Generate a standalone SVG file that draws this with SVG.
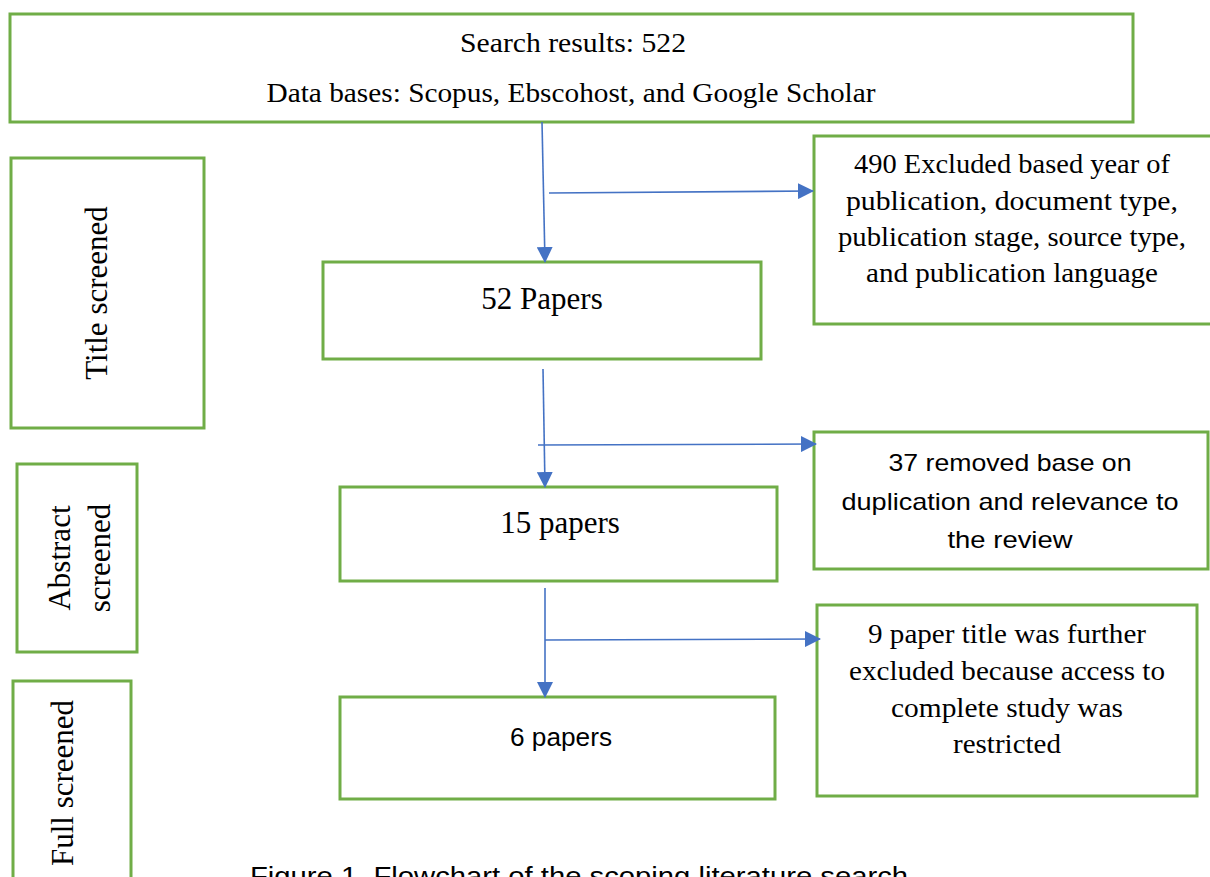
<svg xmlns="http://www.w3.org/2000/svg" width="1210" height="877" viewBox="0 0 1210 877">
<defs>
<style>
.box{fill:#fff;stroke:#70AD47;stroke-width:3}
.serif{font-family:"Liberation Serif","Times New Roman",serif;fill:#000}
.sans{font-family:"Liberation Sans",Arial,sans-serif;fill:#000}
.conn{stroke:#4472C4;stroke-width:1.6;fill:none}
</style>
<marker id="ah" markerUnits="userSpaceOnUse" markerWidth="16" markerHeight="16" viewBox="0 0 16 16" refX="15" refY="8" orient="auto">
<path d="M0,0 L16,8 L0,16 Z" fill="#4472C4"/>
</marker>
</defs>
<rect width="1210" height="877" fill="#fff"/>

<g id="search">
<rect class="box" x="10" y="14" width="1123" height="108"/>
<text class="serif" x="573" y="52" font-size="27" text-anchor="middle" textLength="226" lengthAdjust="spacingAndGlyphs">Search results: 522</text>
<text class="serif" x="571" y="102" font-size="27" text-anchor="middle" textLength="609" lengthAdjust="spacingAndGlyphs">Data bases: Scopus, Ebscohost, and Google Scholar</text>
</g>

<g id="excluded490">
<rect class="box" x="814" y="136" width="400" height="188"/>
<g class="serif" font-size="27" text-anchor="middle">
<text x="1012" y="173" textLength="316" lengthAdjust="spacingAndGlyphs">490 Excluded based year of</text>
<text x="1012" y="210" textLength="332" lengthAdjust="spacingAndGlyphs">publication, document type,</text>
<text x="1012" y="246" textLength="348" lengthAdjust="spacingAndGlyphs">publication stage, source type,</text>
<text x="1012" y="282" textLength="292" lengthAdjust="spacingAndGlyphs">and publication language</text>
</g>
</g>

<g id="papers52">
<rect class="box" x="323" y="262" width="438" height="97"/>
<text class="serif" x="542" y="309" font-size="31" text-anchor="middle">52 Papers</text>
</g>

<g id="removed37">
<rect class="box" x="814" y="432" width="394" height="137"/>
<g class="sans" font-size="24" text-anchor="middle">
<text x="1010" y="471" textLength="243" lengthAdjust="spacingAndGlyphs">37 removed base on</text>
<text x="1010" y="510" textLength="337" lengthAdjust="spacingAndGlyphs">duplication and relevance to</text>
<text x="1010" y="548" textLength="125" lengthAdjust="spacingAndGlyphs">the review</text>
</g>
</g>

<g id="papers15">
<rect class="box" x="340" y="487" width="437" height="94"/>
<text class="serif" x="560" y="533" font-size="31" text-anchor="middle">15 papers</text>
</g>

<g id="excluded9">
<rect class="box" x="817" y="605" width="380" height="191"/>
<g class="serif" font-size="27" text-anchor="middle">
<text x="1007" y="643" textLength="278" lengthAdjust="spacingAndGlyphs">9 paper title was further</text>
<text x="1007" y="680" textLength="316" lengthAdjust="spacingAndGlyphs">excluded because access to</text>
<text x="1007" y="717" textLength="232" lengthAdjust="spacingAndGlyphs">complete study was</text>
<text x="1007" y="753" textLength="108" lengthAdjust="spacingAndGlyphs">restricted</text>
</g>
</g>

<g id="papers6">
<rect class="box" x="340" y="697" width="435" height="102"/>
<text class="sans" x="561" y="746" font-size="26" text-anchor="middle" textLength="102" lengthAdjust="spacingAndGlyphs">6 papers</text>
</g>

<g id="titleScreened">
<rect class="box" x="11" y="158" width="193" height="270"/>
<text class="serif" font-size="31" text-anchor="middle" transform="translate(107,293) rotate(-90)">Title screened</text>
</g>

<g id="abstractScreened">
<rect class="box" x="17" y="464" width="120" height="188"/>
<text class="serif" font-size="31" text-anchor="middle" transform="translate(70,558) rotate(-90)">Abstract</text>
<text class="serif" font-size="31" text-anchor="middle" transform="translate(110,558) rotate(-90)">screened</text>
</g>

<g id="fullScreened">
<rect class="box" x="13" y="681" width="118" height="210"/>
<text class="serif" font-size="31" text-anchor="middle" transform="translate(73,783) rotate(-90)">Full screened</text>
</g>

<g id="connectors">
<line class="conn" x1="542" y1="122" x2="545" y2="262" marker-end="url(#ah)"/>
<line class="conn" x1="549" y1="193" x2="813" y2="191" marker-end="url(#ah)"/>
<line class="conn" x1="543" y1="369" x2="545" y2="487" marker-end="url(#ah)"/>
<line class="conn" x1="538" y1="445" x2="816" y2="444" marker-end="url(#ah)"/>
<line class="conn" x1="545" y1="588" x2="545" y2="697" marker-end="url(#ah)"/>
<line class="conn" x1="545" y1="640" x2="820" y2="639" marker-end="url(#ah)"/>
</g>

<text class="sans" x="250" y="885" font-size="26" textLength="658" lengthAdjust="spacingAndGlyphs">Figure 1. Flowchart of the scoping literature search</text>
</svg>
